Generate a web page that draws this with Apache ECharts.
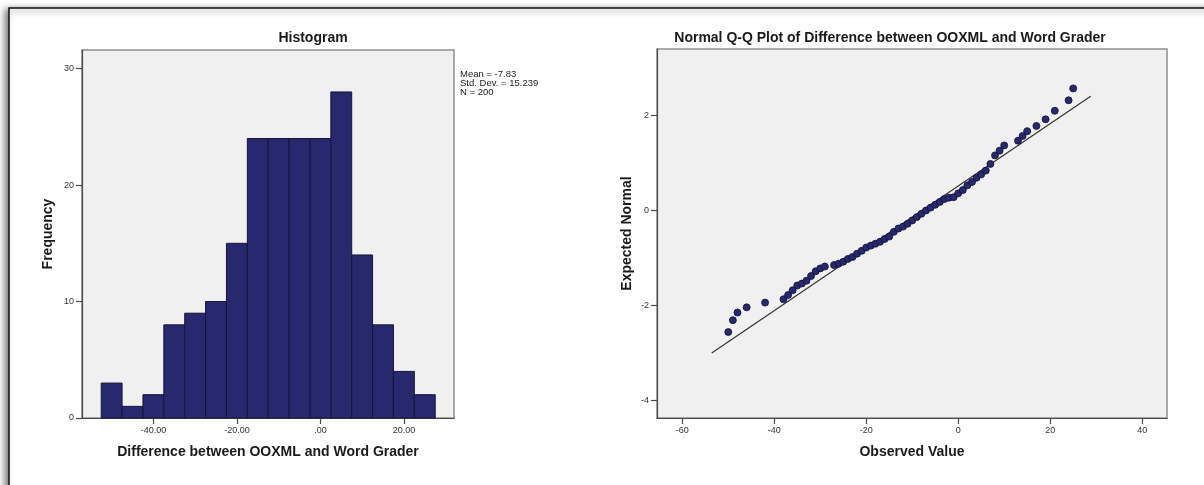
<!DOCTYPE html>
<html>
<head>
<meta charset="utf-8">
<script src="https://cdn.jsdelivr.net/npm/echarts@6/dist/echarts.min.js"></script>
<style>
html,body{margin:0;padding:0;background:#fff;}
#c{width:1204px;height:485px;}
</style>
</head>
<body>
<div id="c"></div>
<script>
// ---------- data ----------
const histCounts = [3, 1, 2, 8, 9, 10, 15, 24, 24, 24, 24, 28, 14, 8, 4, 2];
const histBinStart = -52.5;
const histBinWidth = 5;
const histYTicks = [0, 10, 20, 30];
const histXTicks = [-40, -20, 0, 20];
const histXTickLabels = ['-40.00', '-20.00', '.00', '20.00'];
const statsLines = ['Mean = -7.83', 'Std. Dev. = 15.239', 'N = 200'];
const statMean = -7.83;
const statSd = 15.239;

const qqObserved = [-50, -49, -48, -46, -42, -38, -37, -36, -35, -34, -33, -32, -31, -30, -29,
  -27, -26, -25, -24, -23, -22, -21, -20, -19, -18, -17, -16, -15, -14, -13, -12, -11, -10,
  -9, -8, -7, -6, -5, -4, -3, -2, -1, 0, 1, 2, 3, 4, 5, 6, 7, 8, 9, 10, 13, 14, 15, 17, 19, 21, 24, 25];
const qqExpected = [-2.56, -2.31, -2.15, -2.04, -1.94, -1.87, -1.78, -1.68, -1.58, -1.54, -1.48, -1.38, -1.28, -1.22, -1.18,
  -1.15, -1.12, -1.08, -1.02, -0.98, -0.91, -0.85, -0.78, -0.74, -0.70, -0.66, -0.60, -0.55, -0.45, -0.38, -0.34, -0.28, -0.21,
  -0.14, -0.07, 0.0, 0.06, 0.12, 0.18, 0.24, 0.27, 0.28, 0.36, 0.43, 0.53, 0.60, 0.69, 0.76, 0.84, 0.98, 1.16, 1.26, 1.37, 1.47, 1.57, 1.67, 1.78, 1.92, 2.10, 2.32, 2.57];
const qqLineX = [-53.6, 28.8];
const qqXTicks = [-60, -40, -20, 0, 20, 40];
const qqYTicks = [-4, -2, 0, 2];

// ---------- build ----------
const histData = histCounts.map((c, i) => [histBinStart + i * histBinWidth, histBinStart + (i + 1) * histBinWidth, c]);
const qqPoints = qqObserved.map((x, i) => [x, qqExpected[i]]);
const qqLine = qqLineX.map(x => [x, (x - statMean) / statSd]);

const FONT = 'Liberation Sans, Arial, sans-serif';
const NAVY = '#27286e';
const tickLabel = { fontFamily: FONT, fontSize: 9, color: '#333', margin: 8 };
const axisLine = { show: true, onZero: false, lineStyle: { color: '#4a4a4a', width: 1.2 } };
const axisTick = { show: true, inside: false, length: 6, lineStyle: { color: '#4a4a4a', width: 1.2 } };
const nameStyle = { fontFamily: FONT, fontSize: 14, fontWeight: 'bold', color: '#1a1a1a' };

const chart = echarts.init(document.getElementById('c'), null, { renderer: 'canvas' });
chart.setOption({
  animation: false,
  backgroundColor: '#fff',
  grid: [
    { left: 82, top: 50, width: 372, height: 368, show: true, backgroundColor: '#f0f0f0', borderColor: '#8f8f8f', borderWidth: 1.5 },
    { left: 657, top: 49, width: 510, height: 369, show: true, backgroundColor: '#f0f0f0', borderColor: '#8f8f8f', borderWidth: 1.5 }
  ],
  xAxis: [
    {
      type: 'value', gridIndex: 0, min: -57.1, max: 32.0,
      name: 'Difference between OOXML and Word Grader', nameLocation: 'middle', nameGap: 27, nameTextStyle: nameStyle,
      axisLine: axisLine, splitLine: { show: false },
      axisTick: Object.assign({ customValues: histXTicks }, axisTick),
      axisLabel: Object.assign({ customValues: histXTicks, formatter: v => histXTickLabels[histXTicks.indexOf(v)] }, tickLabel)
    },
    {
      type: 'value', gridIndex: 1, min: -65.5, max: 45.4,
      name: 'Observed Value', nameLocation: 'middle', nameGap: 27, nameTextStyle: nameStyle,
      axisLine: axisLine, splitLine: { show: false },
      axisTick: Object.assign({ customValues: qqXTicks }, axisTick),
      axisLabel: Object.assign({ customValues: qqXTicks }, tickLabel)
    }
  ],
  yAxis: [
    {
      type: 'value', gridIndex: 0, min: 0, max: 31.6,
      name: 'Frequency', nameLocation: 'middle', nameGap: 27, nameTextStyle: nameStyle,
      axisLine: axisLine, splitLine: { show: false },
      axisTick: Object.assign({ customValues: histYTicks }, axisTick),
      axisLabel: Object.assign({ customValues: histYTicks }, tickLabel)
    },
    {
      type: 'value', gridIndex: 1, min: -4.37, max: 3.40,
      name: 'Expected Normal', nameLocation: 'middle', nameGap: 23, nameTextStyle: nameStyle,
      axisLine: axisLine, splitLine: { show: false },
      axisTick: Object.assign({ customValues: qqYTicks }, axisTick),
      axisLabel: Object.assign({ customValues: qqYTicks }, tickLabel)
    }
  ],
  series: [
    {
      type: 'custom', xAxisIndex: 0, yAxisIndex: 0,
      data: histData,
      encode: { x: [0, 1], y: 2 },
      renderItem: function (params, api) {
        const p0 = api.coord([api.value(0), api.value(2)]);
        const p1 = api.coord([api.value(1), 0]);
        return {
          type: 'rect',
          shape: { x: p0[0], y: p0[1], width: p1[0] - p0[0], height: p1[1] - p0[1] },
          style: { fill: NAVY, stroke: '#15153a', lineWidth: 1 }
        };
      }
    },
    {
      type: 'line', xAxisIndex: 1, yAxisIndex: 1, data: qqLine,
      symbol: 'none', lineStyle: { color: '#333', width: 1.2 }, z: 1
    },
    {
      type: 'scatter', xAxisIndex: 1, yAxisIndex: 1, data: qqPoints,
      symbolSize: 7, itemStyle: { color: NAVY, borderColor: '#121230', borderWidth: 0.8, opacity: 1 }, z: 3
    }
  ],
  graphic: [
    {
      type: 'rect', z: -10, silent: true,
      shape: { x: 9, y: 8, width: 1400, height: 700 },
      style: { fill: '#fff', stroke: '#111', lineWidth: 1.5, shadowBlur: 7, shadowColor: 'rgba(0,0,0,0.55)', shadowOffsetX: -3, shadowOffsetY: 2 }
    },
    {
      type: 'text', x: 313, y: 38, silent: true,
      style: { text: 'Histogram', font: 'bold 14px ' + FONT, fill: '#1a1a1a', textAlign: 'center', textVerticalAlign: 'middle' }
    },
    {
      type: 'text', x: 890, y: 38, silent: true,
      style: { text: 'Normal Q-Q Plot of Difference between OOXML and Word Grader', font: 'bold 14px ' + FONT, fill: '#1a1a1a', textAlign: 'center', textVerticalAlign: 'middle' }
    },
    {
      type: 'text', x: 460, y: 70, silent: true,
      style: { text: statsLines.join('\n'), font: '9.5px ' + FONT, fill: '#222', lineHeight: 9, textAlign: 'left', textVerticalAlign: 'top' }
    }
  ]
});
</script>
</body>
</html>
